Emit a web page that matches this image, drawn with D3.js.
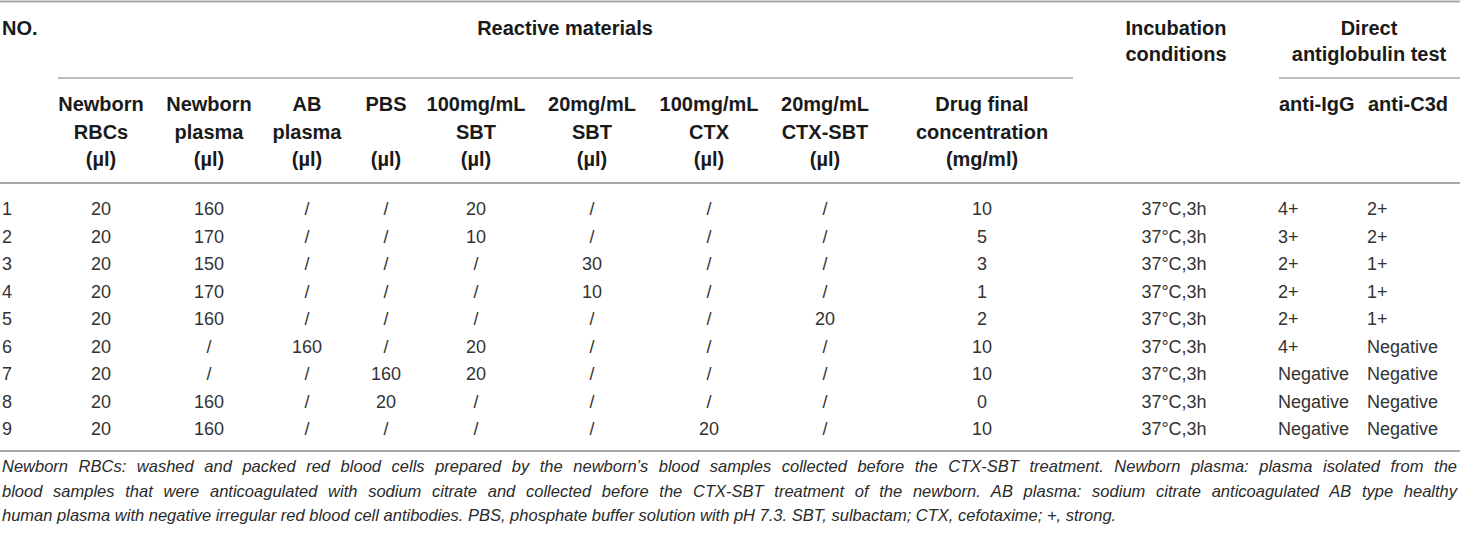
<!DOCTYPE html>
<html><head><meta charset="utf-8">
<script src="https://cdn.jsdelivr.net/npm/d3@7/dist/d3.min.js"></script>
<style>
html,body{margin:0;padding:0;background:#fff;}
svg text{font-family:"Liberation Sans",Arial,Helvetica,sans-serif;}
</style></head>
<body><svg id="c" width="1460" height="535"></svg>
<script>
// ---- data ----
const rowNo = ["1","2","3","4","5","6","7","8","9"];
const rbc = ["20","20","20","20","20","20","20","20","20"];
const newbornPlasma = ["160","170","150","170","160","/","/","160","160"];
const abPlasma = ["/","/","/","/","/","160","/","/","/"];
const pbs = ["/","/","/","/","/","/","160","20","/"];
const sbt100 = ["20","10","/","/","/","20","20","/","/"];
const sbt20 = ["/","/","30","10","/","/","/","/","/"];
const ctx100 = ["/","/","/","/","/","/","/","/","20"];
const ctxSbt20 = ["/","/","/","/","20","/","/","/","/"];
const drugConc = ["10","5","3","1","2","10","10","0","10"];
const incubation = ["37°C,3h","37°C,3h","37°C,3h","37°C,3h","37°C,3h","37°C,3h","37°C,3h","37°C,3h","37°C,3h"];
const antiIgG = ["4+","3+","2+","2+","2+","4+","Negative","Negative","Negative"];
const antiC3d = ["2+","2+","1+","1+","1+","Negative","Negative","Negative","Negative"];

const columnKeys = ["no","rbc","np","ab","pbs","s100","s20","c100","cs20","drug","inc","igg","c3d"];
const columnHeaders = [
  ["NO."],
  ["Newborn","RBCs","(µl)"],
  ["Newborn","plasma","(µl)"],
  ["AB","plasma","(µl)"],
  ["PBS","","(µl)"],
  ["100mg/mL","SBT","(µl)"],
  ["20mg/mL","SBT","(µl)"],
  ["100mg/mL","CTX","(µl)"],
  ["20mg/mL","CTX-SBT","(µl)"],
  ["Drug final","concentration","(mg/ml)"],
  ["Incubation","conditions"],
  ["anti-IgG"],
  ["anti-C3d"]
];
const groupHeaders = [["Reactive materials"],["Direct","antiglobulin test"]];
const footnoteLines = [
  "Newborn RBCs: washed and packed red blood cells prepared by the newborn’s blood samples collected before the CTX-SBT treatment. Newborn plasma: plasma isolated from the",
  "blood samples that were anticoagulated with sodium citrate and collected before the CTX-SBT treatment of the newborn. AB plasma: sodium citrate anticoagulated AB type healthy",
  "human plasma with negative irregular red blood cell antibodies. PBS, phosphate buffer solution with pH 7.3. SBT, sulbactam; CTX, cefotaxime; +, strong."
];
const columns = [rowNo,rbc,newbornPlasma,abPlasma,pbs,sbt100,sbt20,ctx100,ctxSbt20,drugConc,incubation,antiIgG,antiC3d];

// ---- layout ----
const svg = d3.select("#c");
const colX = d3.scaleOrdinal().domain(columnKeys)
  .range([2,101,209,307,386,476,592,709,825,982,1174,1278,1367]);
const anchor = d3.scaleOrdinal().domain(columnKeys)
  .range(["start","middle","middle","middle","middle","middle","middle","middle","middle","middle","middle","start","start"]);
const rowY = d3.scalePoint().domain(rowNo).range([209,429]);
const headLineY = d3.scalePoint().domain([0,1,2]).range([104,159]);
const topLineY = d3.scalePoint().domain([0,1]).range([28,54]);
const footY = d3.scalePoint().domain([0,1,2]).range([466,515]);

const lineColor = "#a8a8a8";
function hline(x1,x2,y,w){
  svg.append("line").attr("x1",x1).attr("x2",x2).attr("y1",y).attr("y2",y)
    .attr("stroke",lineColor).attr("stroke-width",w);
}
hline(0,1460,1.5,2);
hline(58,1073,78,1.5);
hline(1279,1460,78,1.5);
hline(0,1460,183,2);
hline(0,1460,451,2);

const bold = {"font-weight":"bold","font-size":"20px","fill":"#1a1a1a"};
function txt(x,y,s,anc,style){
  const t = svg.append("text").attr("x",x).attr("y",y).attr("text-anchor",anc)
    .attr("dominant-baseline","central").text(s);
  Object.entries(style).forEach(([k,v])=>t.style(k,v));
  return t;
}
// top headers
txt(2,topLineY(0),columnHeaders[0][0],"start",bold);
txt(565,topLineY(0),groupHeaders[0][0],"middle",bold);
columnHeaders[10].forEach((s,j)=>txt(1176,topLineY(j),s,"middle",bold));
groupHeaders[1].forEach((s,j)=>txt(1369,topLineY(j),s,"middle",bold));

// sub headers
columnKeys.forEach((k,i)=>{
  if(i===0||i===10) return;
  if(i>=11){ txt(colX(k)+1,headLineY(0),columnHeaders[i][0],"start",bold); return; }
  columnHeaders[i].forEach((s,j)=>{ if(s) txt(colX(k),headLineY(j),s,"middle",bold); });
});

// body
columnKeys.forEach((k,i)=>{
  svg.append("g").selectAll("text").data(columns[i]).join("text")
    .attr("x",colX(k)).attr("y",(d,j)=>rowY(rowNo[j]))
    .attr("text-anchor",anchor(k)).attr("dominant-baseline","central")
    .style("font-size","18px").style("fill","#333").text(d=>d);
});

// footnote (first two lines justified via word spacing)
footnoteLines.forEach((s,j)=>{
  const t = txt(2,footY(j),s,"start",{"font-size":"16.5px","font-style":"italic","fill":"#2a2a2a"});
  if(j<2){
    const nat = t.node().getComputedTextLength();
    const spaces = (s.match(/ /g)||[]).length;
    const ws = (1455 - nat)/spaces;
    t.style("word-spacing", ws + "px");
  }
});
</script></body></html>
